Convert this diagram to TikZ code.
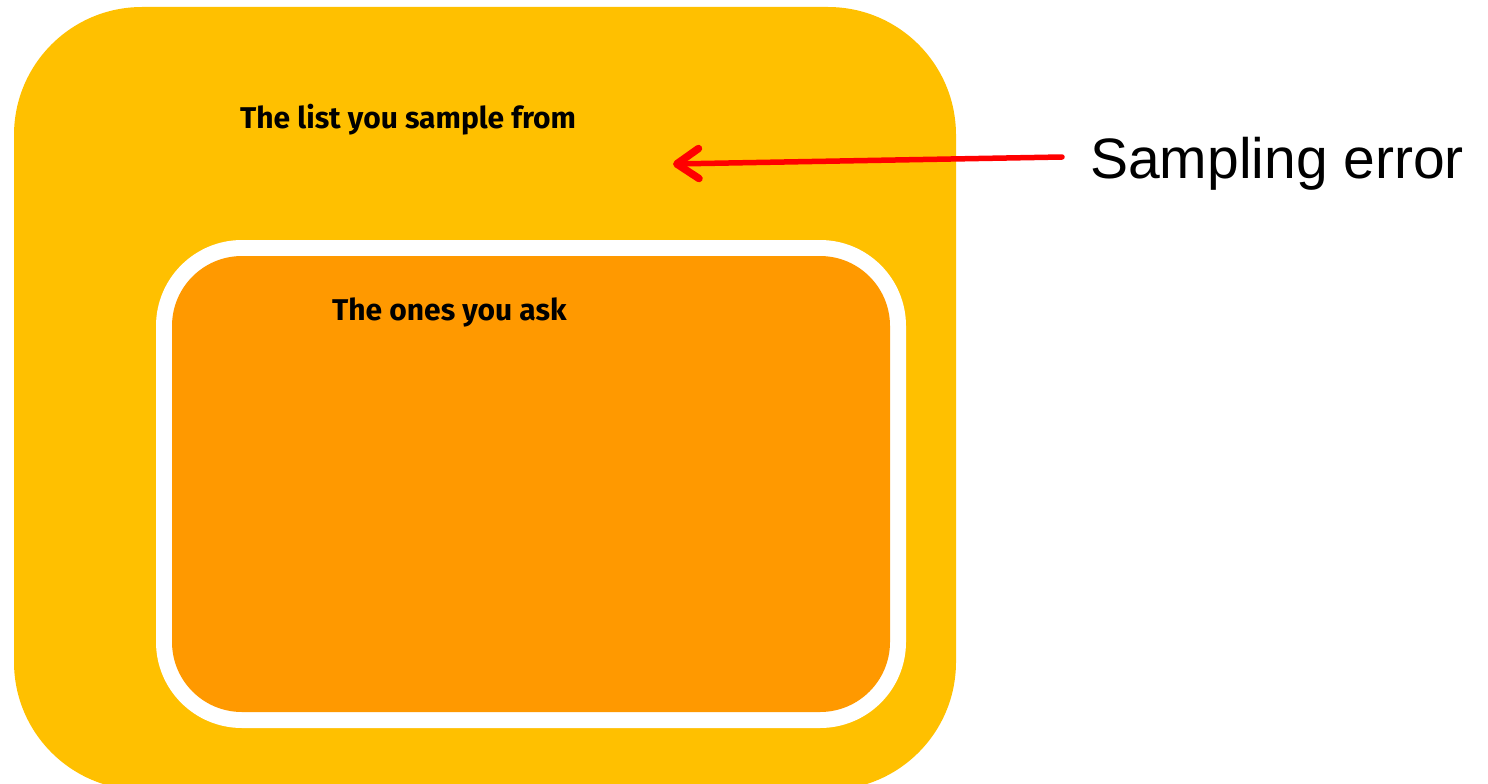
\documentclass[tikz,border=0pt]{standalone}
\usepackage{fontspec}
\setmainfont{Liberation Sans}
\newfontfamily\labfont{Fira Sans}
\usetikzlibrary{arrows.meta}
\definecolor{outery}{HTML}{FFC000}
\definecolor{innero}{HTML}{FF9900}
\definecolor{arrred}{HTML}{FF0000}
\tikzset{
  boxlabel/.style={font=\labfont\bfseries\fontsize{30}{34}\selectfont, inner sep=0pt, anchor=base west, text=black},
  errarrow/.style={draw=arrred, line width=5.5pt, line cap=round, -{Straight Barb[length=22pt,width=30pt,line width=7.5pt,round]}}
}
\begin{document}
\begin{tikzpicture}[x=1pt,y=-1pt]
\useasboundingbox (0,0) rectangle (1488,784);
\fill[outery, rounded corners=128pt] (14,7) rectangle (956,790);
\fill[white] (0,784) rectangle (1488,800);
\fill[outery] (140,760) rectangle (830,784);
\fill[white, rounded corners=86pt] (156,240) rectangle (906,728);
\fill[innero, rounded corners=70pt] (172,256) rectangle (890,712);
\node[boxlabel] (outerlab) at (240,128) {The list you sample from};
\node[boxlabel] (innerlab) at (332,320) {The ones you ask};
\node[font=\fontsize{57}{60}\selectfont, inner sep=0pt, anchor=base west] (err) at (1090,178) {Sampling error};
\coordinate (tail) at (1062,157);
\coordinate (head) at (673,164);
\draw[errarrow] (tail) -- (head);
\end{tikzpicture}
\end{document}
